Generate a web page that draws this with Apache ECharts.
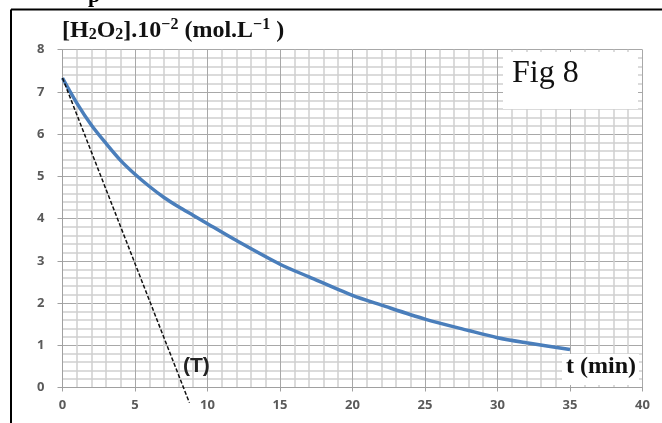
<!DOCTYPE html>
<html>
<head>
<meta charset="utf-8">
<script src="https://cdn.jsdelivr.net/npm/echarts@6/dist/echarts.min.js"></script>
<style>
  html, body { margin: 0; padding: 0; background: #fff; }
  #chart { width: 662px; height: 423px; }
</style>
</head>
<body>
<div id="chart"></div>
<script>
// [H2O2] curve
const tValues = [0, 1, 2, 3, 4, 5, 6, 7, 8, 9, 10, 12, 15, 17, 20, 22, 25, 28, 30, 32, 35];
const concValues = [7.33, 6.73, 6.21, 5.78, 5.38, 5.05, 4.76, 4.5, 4.28, 4.08, 3.88, 3.48, 2.92, 2.62, 2.18, 1.95, 1.62, 1.35, 1.18, 1.06, 0.9];
// tangent (T) at t = 0
const tangentT = [0, 8.75];
const tangentC = [7.33, -0.36];
const xTicks = [0, 5, 10, 15, 20, 25, 30, 35, 40];
const yTicks = [0, 1, 2, 3, 4, 5, 6, 7, 8];

const chart = echarts.init(document.getElementById('chart'));

const option = {
  animation: false,
  grid: { left: 62.5, right: 19.5, top: 49.7, bottom: 35.5 },
  xAxis: {
    type: 'value',
    min: xTicks[0],
    max: xTicks[xTicks.length - 1],
    interval: 5,
    axisLine: { show: true, lineStyle: { color: '#a0a0a0', width: 1 } },
    axisTick: { show: true, length: 4, lineStyle: { color: '#a0a0a0' } },
    axisLabel: { margin: 11, color: '#5a5a5a', fontSize: 13, fontWeight: 'bold', fontFamily: 'Open Sans' },
    splitLine: { show: true, lineStyle: { color: '#a8a8a8', width: 1 } },
    minorTick: { show: false, splitNumber: 5 },
    minorSplitLine: { show: true, lineStyle: { color: '#d0d0d0', width: 1.5 } }
  },
  yAxis: {
    type: 'value',
    min: yTicks[0],
    max: yTicks[yTicks.length - 1],
    interval: 1,
    axisLine: { show: true, lineStyle: { color: '#a0a0a0', width: 1 } },
    axisTick: { show: true, length: 5, lineStyle: { color: '#a0a0a0' } },
    axisLabel: { margin: 18, color: '#5a5a5a', fontSize: 13, fontWeight: 'bold', fontFamily: 'Open Sans' },
    splitLine: { show: true, lineStyle: { color: '#a8a8a8', width: 1 } },
    minorTick: { show: false, splitNumber: 5 },
    minorSplitLine: { show: true, lineStyle: { color: '#d0d0d0', width: 1.5 } }
  },
  series: [
    {
      name: 'H2O2',
      type: 'line',
      smooth: 0.3,
      symbol: 'none',
      data: tValues.map((t, i) => [t, concValues[i]]),
      lineStyle: { color: '#4a7ebb', width: 3.5 },
      z: 3
    },
    {
      name: 'T',
      type: 'line',
      symbol: 'none',
      clip: false,
      data: tangentT.map((t, i) => [t, tangentC[i]]),
      lineStyle: { color: '#111', width: 1.5, type: [4, 2] },
      z: 4
    }
  ],
  graphic: [
    // page frame
    { type: 'line', shape: { x1: 11, y1: 9.5, x2: 662, y2: 9.5 }, style: { stroke: '#000', lineWidth: 2 } },
    { type: 'line', shape: { x1: 11, y1: 9.5, x2: 11, y2: 423 }, style: { stroke: '#000', lineWidth: 2 } },
    { type: 'text', left: 88, top: -15, style: { text: 'p', font: 'bold 22px "Liberation Serif"', fill: '#000' } },
    // Fig 8 box
    { type: 'rect', shape: { x: 503, y: 52, width: 135, height: 57 }, style: { fill: '#fff' }, z: 10 },
    { type: 'text', left: 512, top: 58, style: { text: 'Fig 8', font: '32px "Liberation Serif"', fill: '#111' }, z: 11 },
    // t (min) box
    { type: 'rect', shape: { x: 562, y: 354, width: 77, height: 31 }, style: { fill: '#fff' }, z: 10 },
    { type: 'text', left: 566, top: 355, style: { text: 't (min)', font: 'bold 24px "Liberation Serif"', fill: '#111' }, z: 11 },
    // tangent label
    { type: 'text', left: 183, top: 356, style: { text: '(T)', font: 'bold 21px "Liberation Sans"', fill: '#222' }, z: 11 },
    // y axis title
    {
      type: 'text', left: 62, top: 15, z: 11,
      style: {
        text: '{a|[H}{s|2}{a|O}{s|2}{a|].10}{p|−2}{a| (mol.L}{p|−1}{a| )}',
        rich: {
          a: { font: 'bold 24px "Liberation Serif"', fill: '#111', lineHeight: 28, verticalAlign: 'bottom' },
          s: { font: 'bold 16px "Liberation Serif"', fill: '#111', lineHeight: 28, verticalAlign: 'bottom' },
          p: { font: 'bold 16px "Liberation Serif"', fill: '#111', lineHeight: 28, verticalAlign: 'top', padding: [2, 0, 0, 0] }
        }
      }
    }
  ]
};

chart.setOption(option);
</script>
</body>
</html>
